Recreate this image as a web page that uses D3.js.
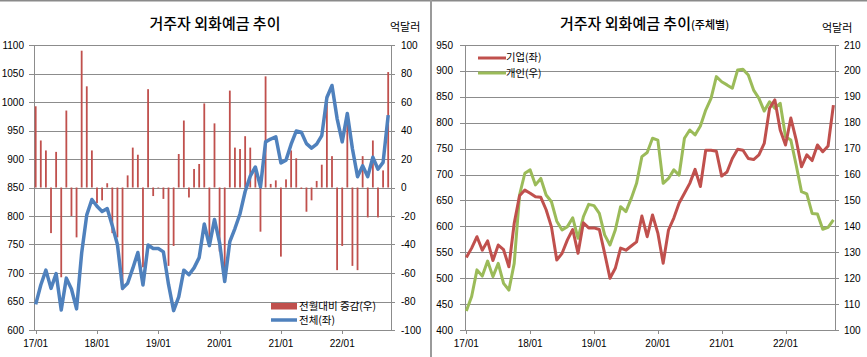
<!DOCTYPE html>
<html><head><meta charset="utf-8">
<script src="https://cdn.jsdelivr.net/npm/d3@7"></script>
<style>
html,body{margin:0;padding:0;background:#fff;}
svg text{font-family:"Liberation Sans",Arial,sans-serif;fill:#000;}
.kr{font-family:"Noto Sans CJK KR","Noto Sans",sans-serif;}
</style></head>
<body>
<svg id="c" width="867" height="357"></svg>
<script>
// ---------- DATA ----------
const months = [
 "17/01","17/02","17/03","17/04","17/05","17/06","17/07","17/08","17/09","17/10","17/11","17/12",
 "18/01","18/02","18/03","18/04","18/05","18/06","18/07","18/08","18/09","18/10","18/11","18/12",
 "19/01","19/02","19/03","19/04","19/05","19/06","19/07","19/08","19/09","19/10","19/11","19/12",
 "20/01","20/02","20/03","20/04","20/05","20/06","20/07","20/08","20/09","20/10","20/11","20/12",
 "21/01","21/02","21/03","21/04","21/05","21/06","21/07","21/08","21/09","21/10","21/11","21/12",
 "22/01","22/02","22/03","22/04","22/05","22/06","22/07","22/08","22/09","22/10"];
const xTickLabels = ["17/01","18/01","19/01","20/01","21/01","22/01"];

// left panel: 전체(좌, 억달러) and 전월대비 증감(우)
const total = [645,679,705,673,699,635,691,672,637,735,802,829,
 817,808,813,783,750,673,682,708,736,679,749,743,
 743,737,680,634,658,705,697,709,727,786,748,794,
 753,685,755,778,804,843,870,886,851,930,935,939,
 893,898,926,949,947,927,919,926,941,1008,1029,971,
 930,980,918,869,888,869,903,882,894,977];
const change = [57,33,26,-32,25,-63,54,-20,-35,96,71,26,
 -11,-9,3,-32,-35,-72,8.5,28,23,-56,69,-6,
 -0.5,-8,-55,-41,23.5,47,-7,13,16.5,59,-41,45,
 -45,-63,68,28,27,36,28,11,-31,78,2.5,5,
 -48.5,5.7,26,20.5,-1,-17,-9,4.6,16,65,22,-58,
 -41,50,-55,-58,22,-21,33,-21,12,81];
const leftTicksL = [600,650,700,750,800,850,900,950,1000,1050,1100];
const leftTicksR = [-100,-80,-60,-40,-20,0,20,40,60,80,100];

// right panel: 기업(좌), 개인(우)
const corp = [540,558,580,554,572,534,564,555,522,606,659,670,
 664,657,656,632,599,535,548,574,594,548,607,597,
 597,594,548,500,519,558,554,562,570,620,580,622,
 587,529,593,616,645,664,683,710,677,747,747,745,
 697,705,731,749,747,731,729,738,760,828,844,786,
 757,809,767,715,738,727,757,744,755,834];
const indiv = [107.3,112.9,123.2,120.8,126.6,120.6,125.7,118,115.4,125.7,152.1,160.5,
 161.8,156,158.5,152.1,149.5,142,138.6,139.9,143.3,135.4,143.7,148.5,
 148,145,136.7,132.8,138.6,147.6,145.7,150.8,156.6,166.9,168.5,174,
 173.3,156.6,158.5,161.8,159.8,174,177.2,175.3,178.7,184.9,189.4,197.8,
 195.8,194.6,193.3,200.4,200.6,198.4,192.6,189.4,184.5,188.1,185.6,187.5,
 174.6,173.3,163.7,153.4,152.5,145,144.8,138.9,139.6,142.5];
const rightTicksL = [400,450,500,550,600,650,700,750,800,850,900,950];
const rightTicksR = [100,110,120,130,140,150,160,170,180,190,200,210];

const RED = "#C0504D", BLUE = "#4F81BD", GREEN = "#9BBB59", GRID = "#8c8c8c", AX = "#8c8c8c";

const svg = d3.select("#c");

// frame
svg.append("line").attr("x1",0).attr("x2",867).attr("y1",0.5).attr("y2",0.5).attr("stroke","#8a8a8a").attr("stroke-width",2);
svg.append("line").attr("x1",431).attr("x2",431).attr("y1",0).attr("y2",357).attr("stroke","#9a9a9a").attr("stroke-width",2);

function panel(o){
  const g = svg.append("g");
  const x = d3.scaleLinear().domain(o.xDomain).range([o.x0,o.x1]);
  const yL = d3.scaleLinear().domain(o.yLdom).range([330,45]);
  const yR = d3.scaleLinear().domain(o.yRdom).range([330,45]);
  g.selectAll(".gl").data(o.ticksL).join("line")
    .attr("x1",o.x0-5).attr("x2",o.x1+4)
    .attr("y1",d=>Math.round(yL(d))+0.5).attr("y2",d=>Math.round(yL(d))+0.5)
    .attr("stroke",GRID).attr("stroke-width",1);
  g.append("line").attr("x1",o.x0+0.5).attr("x2",o.x0+0.5).attr("y1",45).attr("y2",330).attr("stroke",AX);
  g.append("line").attr("x1",o.x1+0.5).attr("x2",o.x1+0.5).attr("y1",45).attr("y2",330).attr("stroke",AX);
  g.selectAll(".yl").data(o.ticksL).join("text")
    .attr("x",o.x0-o.lOff).attr("y",d=>yL(d)).attr("dy","0.35em")
    .attr("text-anchor","end").attr("font-size",10).text(d=>d);
  g.selectAll(".yr").data(o.ticksR).join("text")
    .attr("x",o.x1+o.rOff).attr("y",d=>yR(d)).attr("dy","0.35em")
    .attr("text-anchor","start").attr("font-size",10).text(d=>d);
  const tIdx = xTickLabels.map(l=>months.indexOf(l));
  g.selectAll(".xt").data(tIdx).join("line")
    .attr("x1",d=>Math.round(x(d))+0.5).attr("x2",d=>Math.round(x(d))+0.5)
    .attr("y1",330).attr("y2",334).attr("stroke",AX);
  g.selectAll(".xl").data(xTickLabels).join("text")
    .attr("x",(d)=>x(months.indexOf(d))).attr("y",347)
    .attr("text-anchor","middle").attr("font-size",10).text(d=>d);
  return {g,x,yL,yR};
}

// ----- Left panel -----
const P1 = panel({x0:34,x1:391,xDomain:[-0.33,69.55],yLdom:[600,1100],yRdom:[-100,100],
  ticksL:leftTicksL,ticksR:leftTicksR,lOff:10,rOff:10});
P1.g.selectAll(".bar").data(change).join("rect")
  .attr("x",(d,i)=>P1.x(i)-0.9).attr("width",1.8)
  .attr("y",d=>P1.yR(Math.max(0,d))).attr("height",d=>Math.abs(P1.yR(d)-P1.yR(0)))
  .attr("fill",RED);
P1.g.append("path").datum(total)
  .attr("d",d3.line().x((d,i)=>P1.x(i)).y(d=>P1.yL(d)))
  .attr("fill","none").attr("stroke",BLUE).attr("stroke-width",3.5).attr("stroke-linejoin","round");
svg.append("text").attr("class","kr").attr("x",215).attr("y",29).attr("text-anchor","middle")
  .attr("font-size",15).attr("font-weight",500).text("거주자 외화예금 추이");
svg.append("text").attr("class","kr").attr("x",390).attr("y",31).attr("font-size",11).text("억달러");
svg.append("rect").attr("x",271).attr("y",303).attr("width",26).attr("height",6.5).attr("fill",RED);
svg.append("text").attr("class","kr").attr("x",299).attr("y",306).attr("dy","0.35em").attr("font-size",10.5).text("전월대비 증감(우)");
svg.append("line").attr("x1",271).attr("x2",297).attr("y1",320).attr("y2",320).attr("stroke",BLUE).attr("stroke-width",3.5);
svg.append("text").attr("class","kr").attr("x",299).attr("y",320).attr("dy","0.35em").attr("font-size",10.5).text("전체(좌)");

// ----- Right panel -----
const P2 = panel({x0:465,x1:835,xDomain:[-0.25,69.3],yLdom:[400,950],yRdom:[100,210],
  ticksL:rightTicksL,ticksR:rightTicksR,lOff:12,rOff:9});
P2.g.append("path").datum(indiv)
  .attr("d",d3.line().x((d,i)=>P2.x(i)).y(d=>P2.yR(d)))
  .attr("fill","none").attr("stroke",GREEN).attr("stroke-width",3).attr("stroke-linejoin","round");
P2.g.append("path").datum(corp)
  .attr("d",d3.line().x((d,i)=>P2.x(i)).y(d=>P2.yL(d)))
  .attr("fill","none").attr("stroke",RED).attr("stroke-width",3).attr("stroke-linejoin","round");
const t2 = svg.append("text").attr("class","kr").attr("x",560).attr("y",29).attr("font-size",15).attr("font-weight",500);
t2.append("tspan").text("거주자 외화예금 추이");
t2.append("tspan").attr("font-size",11).text("(주체별)");
svg.append("text").attr("class","kr").attr("x",822).attr("y",32).attr("font-size",11).text("억달러");
svg.append("line").attr("x1",478).attr("x2",506).attr("y1",58).attr("y2",58).attr("stroke",RED).attr("stroke-width",3);
svg.append("text").attr("class","kr").attr("x",506).attr("y",57.5).attr("dy","0.35em").attr("font-size",10.3).text("기업(좌)");
svg.append("line").attr("x1",478).attr("x2",506).attr("y1",73).attr("y2",73).attr("stroke",GREEN).attr("stroke-width",3);
svg.append("text").attr("class","kr").attr("x",506).attr("y",73).attr("dy","0.35em").attr("font-size",10.3).text("개인(우)");
</script>
</body></html>
